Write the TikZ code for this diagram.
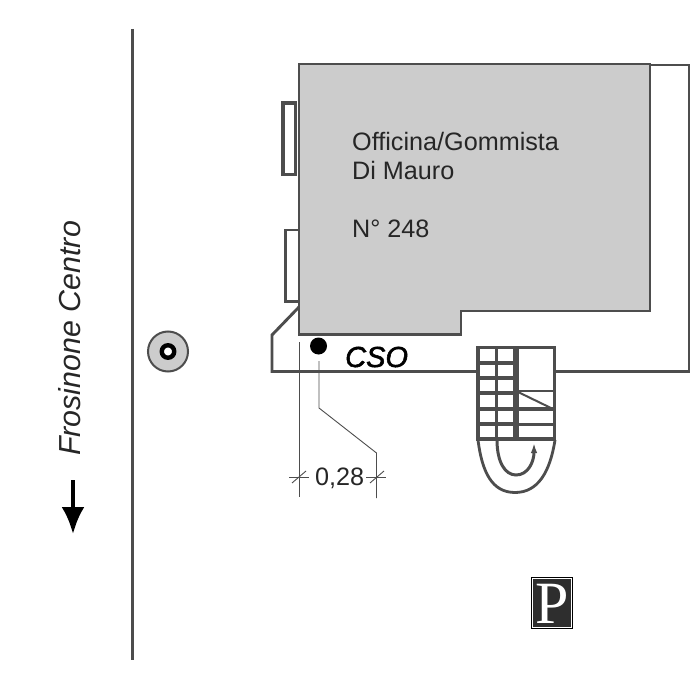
\documentclass[tikz,border=0pt]{standalone}
\usepackage{fontspec}
\usetikzlibrary{arrows.meta}
\setmainfont{Liberation Sans}
\newfontfamily\csofont[FakeBold=1.8]{Liberation Sans Italic}
\newfontfamily\signfont{Liberation Serif}
\definecolor{ink}{HTML}{4D4D4D}
\definecolor{roof}{HTML}{CCCCCC}
\tikzset{
  thin line/.style={draw=ink,line width=0.9pt},
  yard/.style={draw=ink,line width=2.9pt},
  label/.style={inner sep=0pt,anchor=base west,font=\fontsize{25.2}{28}\selectfont,text=black!85},
}
\begin{document}
\begin{tikzpicture}[x=1pt,y=-1pt]
\useasboundingbox (0,0) rectangle (700,700);
\fill[white] (0,0) rectangle (700,700);
% road
\draw[draw=ink,line width=3pt] (132,29) -- (132,660);
% outer yard
\draw[yard] (650,65) -- (689,65) -- (689,371.5) -- (555,371.5);
\draw[yard] (477,371.5) -- (272,371.5) -- (272,335) -- (299,307);
% side boxes
\draw[draw=ink,line width=3.2pt,fill=white] (283,103) rectangle (295.5,174.5);
\draw[draw=ink,line width=2.6pt,fill=white] (285.5,230) rectangle (299,301.5);
% building
\draw[draw=ink,line width=2.8pt,fill=roof] (299,64) -- (650,64) -- (650,311) -- (461,311) -- (461,334.5) -- (299,334.5) -- cycle;
\node[label] (t1) at (352,151) {Officina/Gommista};
\node[label] (t2) at (352,180) {Di Mauro};
\node[label] (t3) at (352,237) {N° 248};
% well
\node[circle,draw=ink,line width=2pt,fill=roof,minimum size=40pt,inner sep=0pt] (well) at (168,351.5) {};
\node[circle,draw=black,line width=4.4pt,fill=white,minimum size=12.5pt,inner sep=0pt] (hole) at (168,351.5) {};
% frosinone
\node[rotate=90,anchor=base west,inner sep=0pt,font=\fontsize{30.4}{33}\selectfont\itshape,text=black!85] (fc) at (80,456) {Frosinone Centro};
\coordinate (a1) at (73,480);
\coordinate (a2) at (73,534);
\draw[line width=4pt,-{Latex[length=27pt,width=23pt]}] (a1) -- (a2);
% CSO
\node[circle,fill=black,minimum size=17pt,inner sep=0pt] (dot) at (318.5,346) {};
\node[anchor=base west,inner sep=0pt,font=\fontsize{29}{32}\csofont,text=black] (cso) at (345,367) {CSO};
% dimension
\coordinate (d1) at (299,342);
\coordinate (d2) at (299,497);
\coordinate (e1) at (319,361);
\coordinate (e2) at (319,408);
\coordinate (e3) at (376.5,453);
\coordinate (e4) at (376.5,498);
\draw[thin line] (d1) -- (d2);
\draw[thin line] (e1) -- (e2) -- (e3) -- (e4);
\node[label] (dim) at (315,485) {0,28};
\draw[thin line] (289,477) -- (309,477);
\draw[thin line] (292,483) -- (306,471);
\draw[thin line] (366,477) -- (386,477);
\draw[thin line] (370,483) -- (384,471);
% stairs
\draw[draw=ink,line width=3.8pt] (478,347.5) -- (554.5,347.5) -- (554.5,439) -- (478,439) -- cycle;
\draw[draw=ink,line width=5.5pt] (516,347.5) -- (516,439);
\draw[draw=ink,line width=3.3pt] (496.5,347.5) -- (496.5,439);
\foreach \yy in {363,378,393,409,424}{\draw[draw=ink,line width=4pt] (478,\yy) -- (516,\yy);}
\draw[draw=ink,line width=1.6pt] (516,391) -- (554,391);
\draw[draw=ink,line width=3.4pt] (516,409) -- (554,409);
\draw[draw=ink,line width=3pt] (516,424) -- (554,424);
\draw[draw=ink,line width=2pt] (516,391) -- (553,409);
\draw[draw=ink,line width=2.8pt] (478,440) .. controls (482,472) and (492,492.5) .. (515,492.5) .. controls (538,492.5) and (550,472) .. (555,440);
\draw[draw=ink,line width=3pt,-{Latex[length=10pt,width=6.5pt]}] (497,440) .. controls (497,462) and (505,475) .. (516,475) .. controls (528,475) and (534,462) .. (534,443);
% parking sign
\node[draw=black,line width=1pt,fill=white,minimum width=41pt,minimum height=51pt,inner sep=0pt] (pbox) at (552,602.5) {};
\node[fill=black!82,minimum width=38pt,minimum height=48pt,inner sep=0pt] (pfill) at (552,602.5) {};
\node[inner sep=0pt,text=white,font=\fontsize{60}{62}\signfont] (p) at (552.5,604) {P};
\end{tikzpicture}
\end{document}
